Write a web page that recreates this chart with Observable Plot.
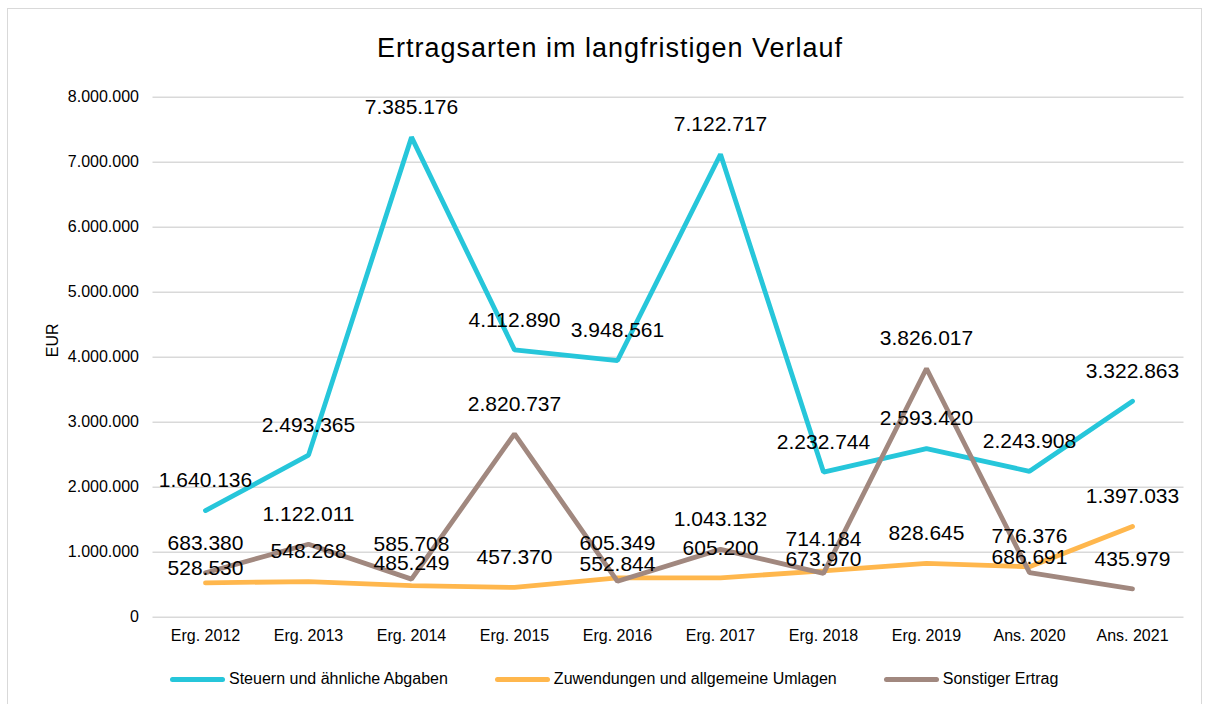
<!DOCTYPE html>
<html>
<head>
<meta charset="utf-8">
<script src="https://cdn.jsdelivr.net/npm/d3@7"></script>
<script src="https://cdn.jsdelivr.net/npm/@observablehq/plot@0.6"></script>
<style>
  body { margin: 0; background: #fff; font-family: "Liberation Sans", Arial, sans-serif; }
  #wrap { position: relative; width: 1210px; height: 704px; overflow: hidden; background: #fff; }
  #frame { position: absolute; left: 7px; top: 8px; width: 1195px; height: 710px; border: 1.5px solid #d9d9d9; box-sizing: border-box; }
  #title { position: absolute; left: 0; top: 32px; width: 1220px; text-align: center; font-size: 27px; letter-spacing: 1px; line-height: 32px; color: #000; }
  #chart { position: absolute; left: 0; top: 80px; }
  #legend { position: absolute; left: 170px; top: 669px; height: 20px; display: flex; align-items: center; font-size: 16px; color: #000; white-space: nowrap; }
  .item { display: flex; align-items: center; margin-right: 47px; }
  .sw { width: 55px; height: 5px; border-radius: 3px; margin-right: 4px; }
</style>
</head>
<body>
<div id="wrap">
  <div id="frame"></div>
  <div id="title">Ertragsarten im langfristigen Verlauf</div>
  <div id="chart"></div>
  <div id="legend"></div>
</div>
<script>
// ---- data ----
const categories = ["Erg. 2012", "Erg. 2013", "Erg. 2014", "Erg. 2015", "Erg. 2016", "Erg. 2017", "Erg. 2018", "Erg. 2019", "Ans. 2020", "Ans. 2021"];
const steuern     = [1640136, 2493365, 7385176, 4112890, 3948561, 7122717, 2232744, 2593420, 2243908, 3322863];
const zuwendungen = [528530, 548268, 485249, 457370, 605349, 605200, 714184, 828645, 776376, 1397033];
const sonstiger   = [683380, 1122011, 585708, 2820737, 552844, 1043132, 673970, 3826017, 686691, 435979];
const seriesNames = ["Steuern und ähnliche Abgaben", "Zuwendungen und allgemeine Umlagen", "Sonstiger Ertrag"];
const seriesValues = [steuern, zuwendungen, sonstiger];
const yTicks = [0, 1000000, 2000000, 3000000, 4000000, 5000000, 6000000, 7000000, 8000000];

// ---- styling ----
const colors = ["#26C6DA", "#FFB74D", "#A1887F"];
// data label offsets (px above the point) where the original moved labels to avoid overlap
const defaultDy = -30;
const labelDy = {
  "Zuwendungen und allgemeine Umlagen": {"Erg. 2012": -15, "Erg. 2014": -22, "Erg. 2016": -35, "Erg. 2018": -32},
  "Sonstiger Ertrag": {"Erg. 2014": -35, "Erg. 2016": -17, "Erg. 2018": -14, "Ans. 2020": -15}
};

const de = d3.formatLocale({decimal: ",", thousands: ".", grouping: [3], currency: ["", " €"]});
const fmt = de.format(",d");

const rows = [];
seriesNames.forEach((s, i) => {
  categories.forEach((c, j) => {
    const dy = (labelDy[s] && labelDy[s][c] !== undefined) ? labelDy[s][c] : defaultDy;
    rows.push({series: s, cat: c, value: seriesValues[i][j], dy});
  });
});

const dyGroups = Array.from(new Set(rows.map(r => r.dy)));

const lineMarks = seriesNames.map((s, i) =>
  Plot.line(rows.filter(r => r.series === s), {
    x: "cat", y: "value", stroke: colors[i], strokeWidth: 4.8,
    strokeLinejoin: "miter", strokeLinecap: "round"
  })
);

const labelMarks = dyGroups.map(dy =>
  Plot.text(rows.filter(r => r.dy === dy), {
    x: "cat", y: "value", text: d => fmt(d.value), dy: dy,
    fontSize: 21, fill: "#000"
  })
);

const chart = Plot.plot({
  width: 1210,
  height: 575,
  marginLeft: 152.5,
  marginRight: 26.5,
  marginTop: 16.7,
  marginBottom: 38.3,
  style: {fontFamily: "'Liberation Sans', Arial, sans-serif", background: "transparent", color: "#000"},
  x: {type: "point", domain: categories, padding: 0.5},
  y: {domain: [0, 8000000]},
  marks: [
    Plot.gridY(yTicks, {stroke: "#d9d9d9", strokeOpacity: 1, strokeWidth: 1.4}),
    Plot.axisY(yTicks, {tickSize: 0, tickPadding: 14, tickFormat: fmt, fontSize: 16, label: null, fill: "#000"}),
    Plot.axisX({tickSize: 0, tickPadding: 12, fontSize: 16, label: null, fill: "#000"}),
    Plot.text(["EUR"], {text: d => d, frameAnchor: "left", dx: -100, rotate: -90, fontSize: 16, fill: "#000"}),
    ...lineMarks,
    ...labelMarks
  ]
});
document.getElementById("chart").appendChild(chart);

// legend
const legend = document.getElementById("legend");
seriesNames.forEach((s, i) => {
  const item = document.createElement("div");
  item.className = "item";
  const sw = document.createElement("div");
  sw.className = "sw";
  sw.style.background = colors[i];
  const t = document.createElement("span");
  t.textContent = s;
  item.appendChild(sw);
  item.appendChild(t);
  legend.appendChild(item);
});
</script>
</body>
</html>
